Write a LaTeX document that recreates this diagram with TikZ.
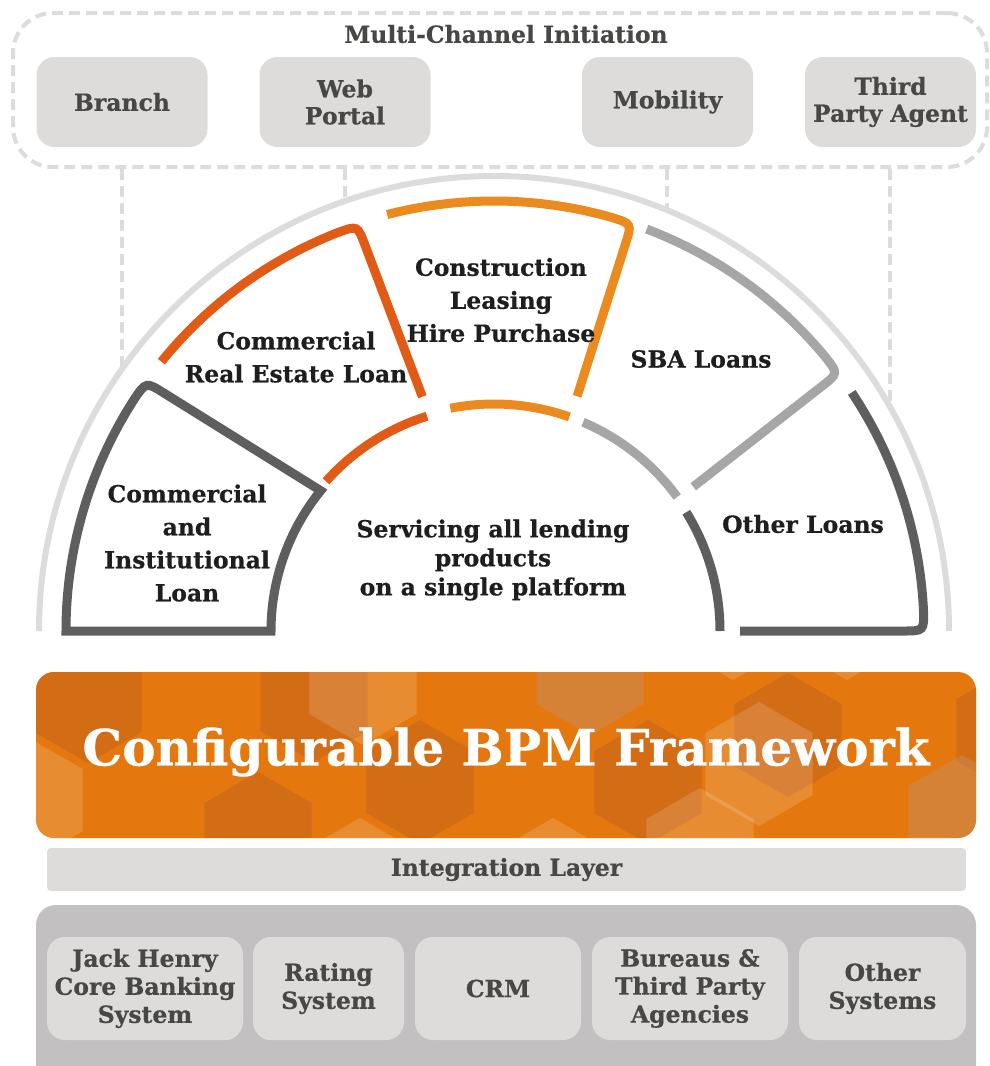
\documentclass[tikz,border=0pt]{standalone}
\usepackage{fontspec}
\setmainfont{DejaVu Serif}[BoldFeatures={FakeBold=0.6}]
\usetikzlibrary{calc}

\definecolor{framegray}{HTML}{DCDCDC}
\definecolor{boxgray}{HTML}{DDDCDB}
\definecolor{txtgray}{HTML}{474745}
\definecolor{labelblack}{HTML}{1E1E1E}
\definecolor{darkseg}{HTML}{5E5E5E}
\definecolor{redseg}{HTML}{E15B16}
\definecolor{orangeseg}{HTML}{EB8B1F}
\definecolor{grayseg}{HTML}{A6A6A6}
\definecolor{bpmorange}{HTML}{E4780F}
\definecolor{hexdark}{RGB}{190,95,30}
\definecolor{hextan}{RGB}{200,140,95}
\definecolor{basegray}{HTML}{C2C0C0}

% regular pointy-top hexagon centred at (#1,#2)
\newcommand\hexcell[3]{%
  \fill[#3] (#1,#2) +(90:62) -- +(30:62) -- +(-30:62) -- +(-90:62)
    -- +(-150:62) -- +(150:62) -- cycle;}

\tikzset{
  txt/.style={font=\bfseries\fontsize{23.5}{27}\selectfont, align=center},
  chanbox/.style={txt, text=txtgray, fill=boxgray, rounded corners=18,
    minimum width=171, minimum height=90, inner sep=0},
  sysbox/.style={txt, text=txtgray, fill=boxgray, rounded corners=18,
    minimum height=103, inner sep=0, font=\bfseries\fontsize{23.5}{28}\selectfont},
  seclabel/.style={txt, text=labelblack, font=\bfseries\fontsize{23.5}{33}\selectfont},
  dashconn/.style={framegray, line width=4, dash pattern=on 11 off 6},
  seg/.style={line width=9, line cap=butt, line join=miter},
  hexd/.style={hexdark, opacity=0.45},
  hext/.style={hextan, opacity=0.5},
  hexl/.style={white, opacity=0.15},
}

\begin{document}
\begin{tikzpicture}[x=1pt, y=-1pt]
\useasboundingbox (0,0) rectangle (990,1066);

% ---------- multi-channel initiation ----------
\node[draw=framegray, line width=4, dash pattern=on 11 off 6, rounded corners=40,
  minimum width=974, minimum height=154] (frame) at (500,90) {};
\node[txt, text=txtgray] (mci) at (506,34) {Multi-Channel Initiation};

\node[chanbox] (branch) at (122,102) {Branch};
\node[chanbox] (web) at (345,102) {Web\\Portal};
\node[chanbox] (mobility) at (667.5,102) {Mobility};
\node[chanbox] (agent) at (890.5,102) {Third\\Party Agent};

% ---------- lending product arc ----------
\begin{scope}[shift={(494,631)}, y=1pt]
  \coordinate (hub) at (0,0);
  \coordinate (a1) at (144.85:455);
  \coordinate (a2) at (109.1:455);
  \coordinate (a3) at (67.6:455);
  \coordinate (a4) at (29.4:455);
\end{scope}

\draw[dashconn] (a1 |- frame.south) -- (a1);
\draw[dashconn] (a2 |- frame.south) -- (a2);
\draw[dashconn] (a3 |- frame.south) -- (a3);
\draw[dashconn] (a4 |- frame.south) -- (a4);

\begin{scope}[shift={(494,631)}, y=1pt]
  % outer guide arc
  \draw[framegray, line width=6] (180:455) arc[start angle=180, end angle=0, radius=455];

  % Commercial and Institutional Loan
  \draw[seg, darkseg] (180:428) arc[start angle=180, end angle=147.2, radius=428]
    .. controls (144.4:428) .. ($(144.4:428)!21pt!(141:223)$) -- (141:223)
    arc[start angle=141, end angle=180, radius=223] -- cycle;

  % Commercial Real Estate Loan
  \draw[seg, redseg] (141:428) arc[start angle=141, end angle=111.4, radius=428]
    .. controls (108.6:428) .. ($(108.6:428)!21pt!(107:245)$) -- (107:245);
  \draw[seg, redseg] (138.3:225) arc[start angle=138.3, end angle=107.3, radius=225];

  % Construction / Leasing / Hire Purchase
  \draw[seg, orangeseg] (104.4:430) arc[start angle=104.4, end angle=74.1, radius=430]
    .. controls (71.3:430) .. ($(71.3:430)!21pt!(70.5:249)$) -- (70.5:249);
  \draw[seg, orangeseg] (101.1:227) arc[start angle=101.1, end angle=70.6, radius=227];

  % SBA Loans
  \draw[seg, grayseg] (69.2:430) arc[start angle=69.2, end angle=39.6, radius=430]
    .. controls (36.8:430) .. ($(36.8:430)!21pt!(35.9:246)$) -- (35.9:246);
  \draw[seg, grayseg] (66.9:227) arc[start angle=66.9, end angle=36.2, radius=227];

  % Other Loans
  \draw[seg, darkseg] (33.7:430) arc[start angle=33.7, end angle=2.8, radius=430]
    .. controls (0:430) .. (409,0) -- (246,0);
  \draw[seg, darkseg] (31.7:226) arc[start angle=31.7, end angle=0, radius=226];
\end{scope}

\node[seclabel] (ci) at (187,543) {Commercial\\and\\Institutional\\Loan};
\node[seclabel] (cre) at (296,357) {Commercial\\Real Estate Loan};
\node[seclabel] (cons) at (501,300) {Construction\\Leasing\\Hire Purchase};
\node[seclabel] (sba) at (701,359) {SBA Loans};
\node[seclabel] (oth) at (803,524) {Other Loans};
\node[txt, text=labelblack, font=\bfseries\fontsize{23.5}{29}\selectfont] (serv) at (493,560)
  {Servicing all lending\\products\\on a single platform};

% ---------- configurable BPM framework ----------
\node[fill=bpmorange, rounded corners=18, minimum width=940, minimum height=166,
  inner sep=0] (bpm) at (506,755) {};
\begin{scope}
  \clip[rounded corners=18] (36,672) rectangle (976,838);
  \hexcell{88}{701}{hexd}
  \hexcell{314}{700}{hexd}
  \hexcell{363}{683}{hexl}
  \hexcell{29}{800}{hexl}
  \hexcell{258}{834}{hexd}
  \hexcell{420}{782}{hexd}
  \hexcell{590}{673}{hext}
  \hexcell{648}{782}{hexd}
  \hexcell{788}{735}{hexd}
  \hexcell{759}{764}{hexl}
  \hexcell{1010}{730}{hexd}
  \hexcell{962}{817}{hext}
  \hexcell{360}{880}{hexl}
  \hexcell{553}{880}{hexl}
  \hexcell{700}{850}{hexl}
  \hexcell{733}{618}{hexl}
  \hexcell{847}{618}{hexl}
\end{scope}
\node[text=white, font=\bfseries\fontsize{50}{60}\selectfont] (bpmtitle) at (506,752)
  {Configurable BPM Framework};

% ---------- integration and back-end systems ----------
\node[fill=boxgray, rounded corners=4, minimum width=919, minimum height=43,
  inner sep=0, txt, text=txtgray] (integ) at (506.5,869.5) {Integration Layer};

\node[fill=basegray, rounded corners=20, minimum width=940, minimum height=200,
  inner sep=0] (sysbase) at (506,1005) {};

\node[sysbox, minimum width=196] (jh) at (145,988.5) {Jack Henry\\Core Banking\\System};
\node[sysbox, minimum width=151] (rating) at (328.5,988.5) {Rating\\System};
\node[sysbox, minimum width=166] (crm) at (498,988.5) {CRM};
\node[sysbox, minimum width=196] (bureau) at (690,988.5) {Bureaus \&\\Third Party\\Agencies};
\node[sysbox, minimum width=167] (othsys) at (882.5,988.5) {Other\\Systems};
\end{tikzpicture}
\end{document}
